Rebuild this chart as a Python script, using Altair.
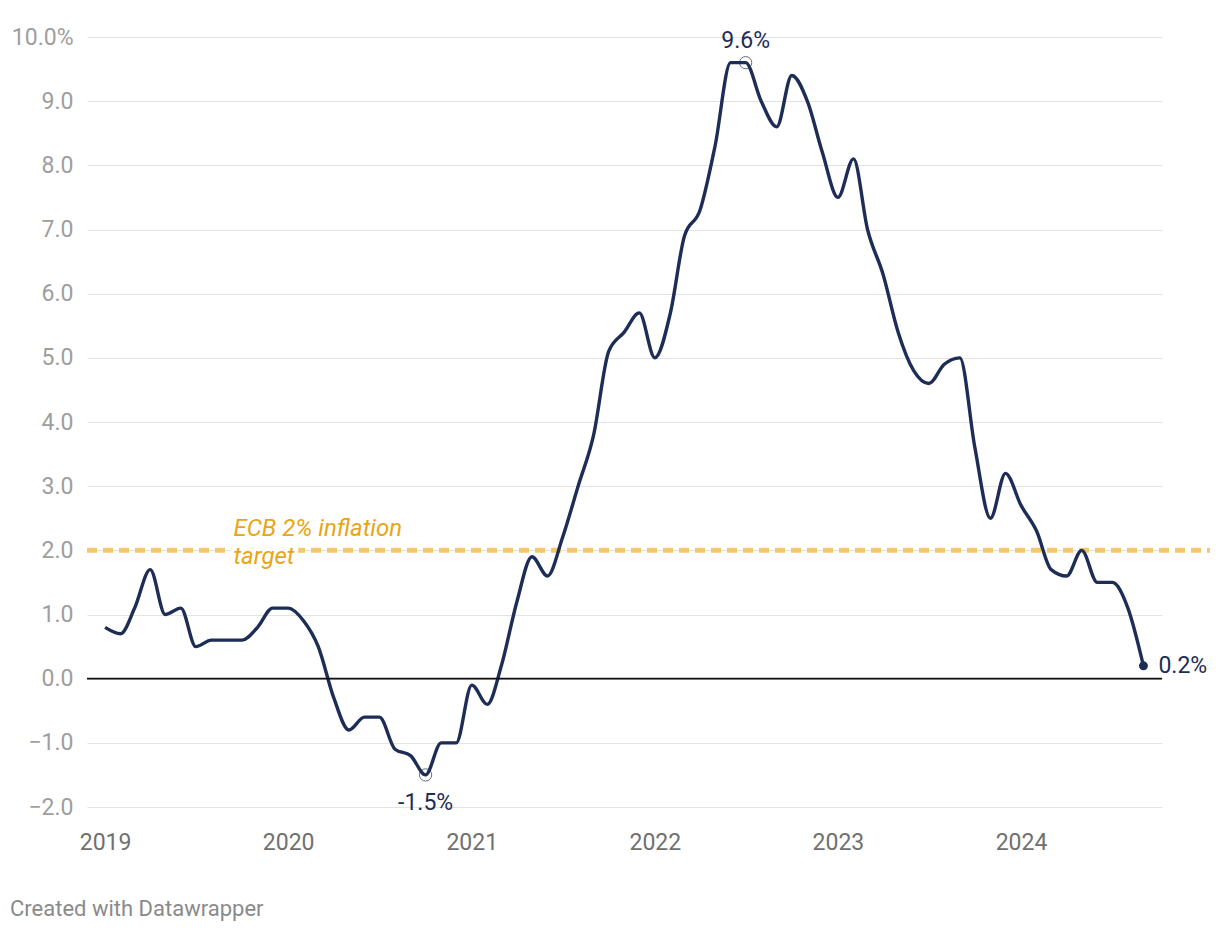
import altair as alt
import pandas as pd

# Monthly annual inflation rate (%), Jan 2019 - Sep 2024
months = pd.date_range("2019-01-01", "2024-09-01", freq="MS").strftime("%Y-%m-%d").tolist()
rate_2019 = [0.8, 0.7, 1.1, 1.7, 1.0, 1.1, 0.5, 0.6, 0.6, 0.6, 0.8, 1.1]
rate_2020 = [1.1, 0.9, 0.5, -0.3, -0.8, -0.6, -0.6, -1.1, -1.2, -1.5, -1.0, -1.0]
rate_2021 = [-0.1, -0.4, 0.2, 1.2, 1.9, 1.6, 2.2, 3.0, 3.8, 5.1, 5.4, 5.7]
rate_2022 = [5.0, 5.7, 6.9, 7.3, 8.3, 9.6, 9.6, 9.0, 8.6, 9.4, 9.0, 8.2]
rate_2023 = [7.5, 8.1, 7.0, 6.3, 5.4, 4.8, 4.6, 4.9, 5.0, 3.6, 2.5, 3.2]
rate_2024 = [2.7, 2.3, 1.7, 1.6, 2.0, 1.5, 1.5, 1.1, 0.2]
rates = rate_2019 + rate_2020 + rate_2021 + rate_2022 + rate_2023 + rate_2024

year_ticks = [2019, 2020, 2021, 2022, 2023, 2024]
y_ticks = [-2, -1, 0, 1, 2, 3, 4, 5, 6, 7, 8, 9, 10]
target_value = 2.0
target_lines = ["ECB 2% inflation", "target"]

# highlighted points
low_date, low_rate, low_label = "2020-10-01", -1.5, "-1.5%"
peak_date, peak_rate, peak_label = "2022-07-01", 9.6, "9.6%"
last_date, last_rate, last_label = "2024-09-01", 0.2, "0.2%"

df = pd.DataFrame({"date": months, "rate": rates})
open_df = pd.DataFrame({"date": [low_date, peak_date], "rate": [low_rate, peak_rate],
                        "label": [low_label, peak_label]})
last_df = pd.DataFrame({"date": [last_date], "rate": [last_rate], "label": [last_label]})

W, H = 1075, 770
NAVY = "#1d2d57"
FONT = "Roboto"
FS = 23

x_scale = alt.Scale(
    type="utc",
    domain=[alt.DateTime(year=2018, month=11, date=26, utc=True),
            alt.DateTime(year=2024, month=10, date=8, utc=True)],
)
y_scale = alt.Scale(domain=[-2, 10], nice=False, zero=False)


def X(field="date"):
    return alt.X(f"{field}:T", scale=x_scale, title=None)


def Y(field):
    return alt.Y(f"{field}:Q", scale=y_scale, title=None)


x_enc = alt.X(
    "date:T", scale=x_scale, title=None,
    axis=alt.Axis(
        values=[alt.DateTime(year=y, month=1, date=1, utc=True) for y in year_ticks],
        labelExpr="utcFormat(datum.value, '%Y')",
        grid=False, domain=False, ticks=False,
        labelFont=FONT, labelFontSize=FS, labelColor="#707070",
        labelPadding=24, labelAlign="center", labelFlush=False,
    ),
)
y_enc = alt.Y(
    "rate:Q", scale=y_scale, title=None,
    axis=alt.Axis(
        values=y_ticks,
        labelExpr="datum.value == 10 ? '10.0%' : format(datum.value, '.1f')",
        grid=True, gridColor="#e3e3e3", gridWidth=1,
        domain=False, ticks=False,
        labelFont=FONT, labelFontSize=FS, labelColor="#9e9e9e",
        labelPadding=14,
    ),
)

line = alt.Chart(df).mark_line(interpolate="monotone", color=NAVY, strokeWidth=3.4).encode(
    x=x_enc, y=y_enc
)

zero = alt.Chart(pd.DataFrame({"v": [0.0]})).mark_rule(color="#111111", strokeWidth=1.6).encode(
    y=Y("v")
)

target = alt.Chart(pd.DataFrame({"v": [target_value]})).mark_rule(
    color="#f3c86f", strokeWidth=5, strokeDash=[10, 6], clip=False
).encode(
    y=Y("v"),
    x=alt.value(0), x2=alt.value(W + 50),
)

ANN_DATE = "2019-09-14"


def ann(txt, dy, halo):
    d = pd.DataFrame({"date": [ANN_DATE], "v": [target_value], "txt": [txt]})
    kw = dict(font=FONT, fontSize=24, fontStyle="italic", align="left",
              baseline="middle", dy=dy)
    if halo:
        mk = alt.Chart(d).mark_text(color="white", stroke="white", strokeWidth=7, **kw)
    else:
        mk = alt.Chart(d).mark_text(color="#e9a514", **kw)
    return mk.encode(x=X(), y=Y("v"), text="txt:N")


ann_layers = [ann(target_lines[0], -21, True), ann(target_lines[1], 7, True),
              ann(target_lines[0], -21, False), ann(target_lines[1], 7, False)]

open_pts = alt.Chart(open_df).mark_point(
    shape="circle", filled=False, size=150, color=NAVY, strokeWidth=1
).encode(x=X(), y=Y("rate"))

peak_lbl = alt.Chart(open_df).transform_filter("datum.rate > 0").mark_text(
    font=FONT, fontSize=FS, color=NAVY, align="center", baseline="middle", dy=-22
).encode(x=X(), y=Y("rate"), text="label:N")

low_lbl = alt.Chart(open_df).transform_filter("datum.rate < 0").mark_text(
    font=FONT, fontSize=FS, color=NAVY, align="center", baseline="middle", dy=28
).encode(x=X(), y=Y("rate"), text="label:N")

last_pt = alt.Chart(last_df).mark_point(
    shape="circle", filled=True, size=80, color=NAVY, opacity=1
).encode(x=X(), y=Y("rate"))

last_lbl = alt.Chart(last_df).mark_text(
    font=FONT, fontSize=FS, color=NAVY, align="left", baseline="middle", dx=15
).encode(x=X(), y=Y("rate"), text="label:N")

footer = alt.Chart(pd.DataFrame({"t": ["Created with Datawrapper"]})).mark_text(
    font=FONT, fontSize=22, color="#8a8a8a", align="left", baseline="middle"
).encode(x=alt.value(-77), y=alt.value(H + 102), text="t:N")

chart = alt.layer(
    target, line, zero, *ann_layers, open_pts, peak_lbl, low_lbl, last_pt, last_lbl, footer
).properties(
    width=W, height=H,
    background="white",
    autosize=alt.AutoSizeParams(type="none"),
    padding={"left": 79, "top": 29, "right": 48, "bottom": 120},
).configure_view(stroke="transparent", strokeWidth=0)

chart.save("out.html", embed_options={"renderer": "svg", "actions": False})
